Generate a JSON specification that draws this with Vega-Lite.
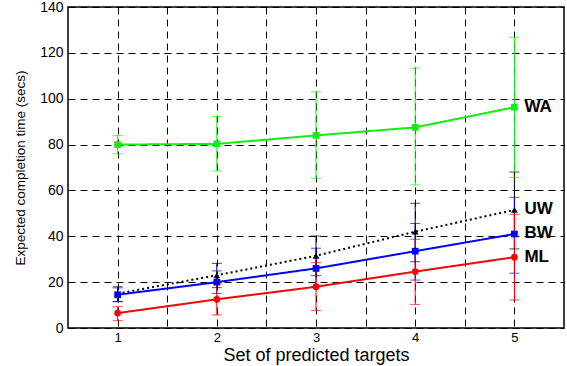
{
  "$schema": "https://vega.github.io/schema/vega-lite/v6.json",
  "width": 496,
  "height": 321,
  "autosize": {"type": "none"},
  "padding": {"left": 68, "top": 7, "right": 3, "bottom": 38},
  "background": "white",
  "config": {
    "font": "Liberation Sans",
    "view": {"stroke": "black", "strokeWidth": 1.5},
    "axis": {
      "labelFont": "Liberation Sans",
      "titleFont": "Liberation Sans",
      "labelColor": "black",
      "titleColor": "black",
      "titleFontWeight": "normal",
      "labelFontSize": 14,
      "domain": false,
      "grid": true,
      "gridColor": "black",
      "gridDash": [7, 5],
      "gridWidth": 1,
      "gridOpacity": 1,
      "ticks": false
    }
  },
  "datasets": {
    "pts": [
      {"series": "WA", "x": 1, "y": 80, "lo": 76, "hi": 84},
      {"series": "WA", "x": 2, "y": 80.3, "lo": 68.5, "hi": 92.3},
      {"series": "WA", "x": 3, "y": 84, "lo": 65.3, "hi": 103},
      {"series": "WA", "x": 4, "y": 87.5, "lo": 62.4, "hi": 113.3},
      {"series": "WA", "x": 5, "y": 96.3, "lo": 65.7, "hi": 126.8},
      {"series": "UW", "x": 1, "y": 15, "lo": 11.5, "hi": 18},
      {"series": "UW", "x": 2, "y": 23, "lo": 17.6, "hi": 28.2},
      {"series": "UW", "x": 3, "y": 31.5, "lo": 22.8, "hi": 40.1},
      {"series": "UW", "x": 4, "y": 42, "lo": 28.9, "hi": 54.4},
      {"series": "UW", "x": 5, "y": 51.5, "lo": 34.5, "hi": 68},
      {"series": "BW", "x": 1, "y": 14.5, "lo": 11.5, "hi": 17.5},
      {"series": "BW", "x": 2, "y": 20, "lo": 15.1, "hi": 24.9},
      {"series": "BW", "x": 3, "y": 26, "lo": 18, "hi": 34.8},
      {"series": "BW", "x": 4, "y": 33.5, "lo": 20.9, "hi": 45.6},
      {"series": "BW", "x": 5, "y": 41, "lo": 23.9, "hi": 57},
      {"series": "ML", "x": 1, "y": 6.5, "lo": 3.2, "hi": 9.3},
      {"series": "ML", "x": 2, "y": 12.5, "lo": 5.7, "hi": 19.5},
      {"series": "ML", "x": 3, "y": 18, "lo": 7.6, "hi": 28.5},
      {"series": "ML", "x": 4, "y": 24.6, "lo": 10.3, "hi": 38.7},
      {"series": "ML", "x": 5, "y": 30.9, "lo": 12.2, "hi": 49.6}
    ],
    "labels": [
      {"series": "WA", "x": 5, "y": 96.3},
      {"series": "UW", "x": 5, "y": 52},
      {"series": "BW", "x": 5, "y": 41.6},
      {"series": "ML", "x": 5, "y": 31}
    ]
  },
  "encoding": {
    "x": {
      "field": "x",
      "type": "quantitative",
      "scale": {"domain": [0.5, 5.5], "nice": false, "zero": false},
      "axis": {
        "title": "Set of predicted targets",
        "titleFontSize": 18,
        "labelFontSize": 13,
        "values": [1, 1.5, 2, 2.5, 3, 3.5, 4, 4.5, 5],
        "labelExpr": "datum.value % 1 == 0 ? format(datum.value, 'd') : ''",
        "labelPadding": 3,
        "titlePadding": 2
      }
    },
    "y": {
      "field": "y",
      "type": "quantitative",
      "scale": {"domain": [0, 140], "nice": false},
      "axis": {
        "title": "Expected completion time (secs)",
        "titleFontSize": 13.5,
        "values": [0, 20, 40, 60, 80, 100, 120, 140],
        "labelPadding": 5,
        "titlePadding": 12
      }
    },
    "color": {
      "field": "series",
      "type": "nominal",
      "scale": {"domain": ["WA", "UW", "BW", "ML"], "range": ["#11ee11", "#000000", "#0000ff", "#ff0000"]},
      "legend": null
    }
  },
  "layer": [
    {
      "data": {"name": "pts"},
      "mark": {"type": "rule", "strokeWidth": 1},
      "encoding": {"y": {"field": "lo", "type": "quantitative"}, "y2": {"field": "hi"}}
    },
    {
      "data": {"name": "pts"},
      "mark": {"type": "tick", "orient": "horizontal", "size": 10, "thickness": 1},
      "encoding": {"y": {"field": "lo", "type": "quantitative"}}
    },
    {
      "data": {"name": "pts"},
      "mark": {"type": "tick", "orient": "horizontal", "size": 10, "thickness": 1},
      "encoding": {"y": {"field": "hi", "type": "quantitative"}}
    },
    {
      "data": {"name": "pts"},
      "mark": {"type": "line", "strokeWidth": 2},
      "encoding": {
        "detail": {"field": "series"},
        "strokeDash": {
          "field": "series",
          "type": "nominal",
          "scale": {"domain": ["WA", "UW", "BW", "ML"], "range": [[1, 0], [2, 3], [1, 0], [1, 0]]},
          "legend": null
        }
      }
    },
    {
      "data": {"name": "pts"},
      "mark": {"type": "point", "filled": true, "opacity": 1, "size": 45},
      "encoding": {
        "shape": {
          "field": "series",
          "type": "nominal",
          "scale": {"domain": ["WA", "UW", "BW", "ML"], "range": ["square", "triangle-up", "square", "circle"]},
          "legend": null
        }
      }
    },
    {
      "data": {"name": "labels"},
      "mark": {"type": "text", "align": "left", "baseline": "middle", "dx": 10, "fontSize": 17, "fontWeight": "bold", "font": "Liberation Sans", "color": "black"},
      "encoding": {"text": {"field": "series"}, "color": {"value": "black"}}
    }
  ]
}
